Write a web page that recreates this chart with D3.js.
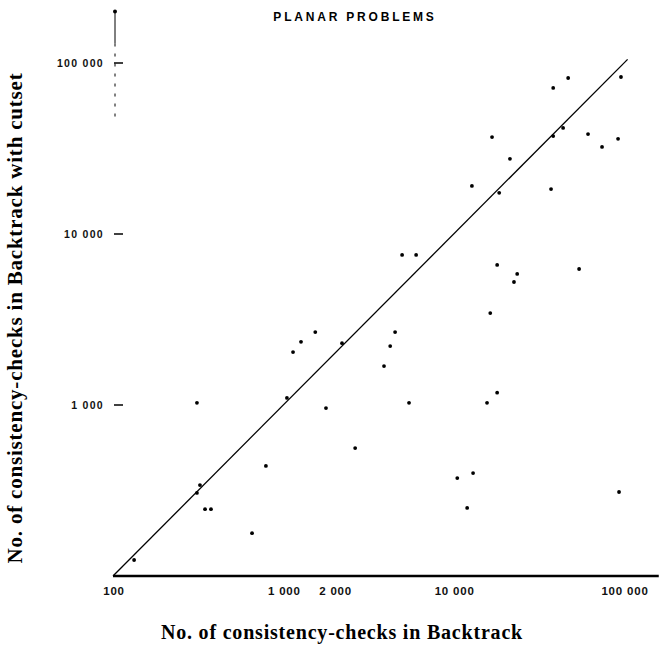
<!DOCTYPE html>
<html>
<head>
<meta charset="utf-8">
<script src="https://cdn.jsdelivr.net/npm/d3@7"></script>
<style>
  body { margin: 0; background: #fff; }
</style>
</head>
<body>
<div id="chart"></div>
<script>
// consistency-checks, plain backtrack (x) vs backtrack with cutset (y)
const backtrack = [
  38400, 47000, 96000, 38400, 43900, 16800, 61500, 74300, 92300, 21400,
  12800, 18500, 37300, 4980, 6020, 18000, 23600, 54500, 22600, 16400,
  4530, 4240, 3900, 5470, 15700, 18000, 311, 1140, 1270, 1540,
  2210, 1050, 1780, 2640, 790, 324, 311, 347, 376, 655,
  133, 10500, 13000, 12000, 93500
];
const cutset = [
  71500, 81700, 82800, 37400, 41700, 36900, 38400, 32300, 36000, 27500,
  19100, 17400, 18300, 7540, 7540, 6590, 5840, 6240, 5240, 3450,
  2670, 2210, 1690, 1030, 1030, 1180, 1030, 2040, 2340, 2670,
  2300, 1100, 960, 560, 440, 340, 306, 246, 246, 178,
  124, 374, 400, 250, 310
];
const xTicks = [100, 1000, 2000, 10000, 100000];
const xTickLabels = ['100', '1 000', '2 000', '10 000', '100 000'];
const yTicks = [1000, 10000, 100000];
const yTickLabels = ['1 000', '10 000', '100 000'];

const width = 661,
  height = 645;

const svg = d3
  .select('#chart')
  .append('svg')
  .attr('width', width)
  .attr('height', height);

// Creating Scales
const xScale = d3.scaleLog().domain([100, 100000]).range([113, 624]);
const yScale = d3.scaleLog().domain([100, 100000]).range([576, 63]);

// Title
svg
  .append('text')
  .attr('x', 355)
  .attr('y', 21)
  .attr('text-anchor', 'middle')
  .style('font-family', 'Liberation Sans, Arial, sans-serif')
  .style('font-weight', 'bold')
  .style('font-size', '12px')
  .style('letter-spacing', '2.8px')
  .text('PLANAR PROBLEMS');

// Creating Axis
svg
  .append('line')
  .attr('x1', xScale(100))
  .attr('x2', xScale(160000))
  .attr('y1', yScale(100))
  .attr('y2', yScale(100))
  .attr('stroke', '#000')
  .attr('stroke-width', 2.4);

const xAxisGroup = svg
  .append('g')
  .attr('transform', `translate(0, ${yScale(100) + 19})`);
xAxisGroup
  .selectAll('text')
  .data(xTicks)
  .enter()
  .append('text')
  .attr('x', d => xScale(d) + 1)
  .attr('text-anchor', 'middle')
  .style('font-family', 'Liberation Sans, Arial, sans-serif')
  .style('font-weight', 'bold')
  .style('font-size', '11.5px')
  .style('letter-spacing', '0.8px')
  .attr('fill', '#111')
  .text((d, i) => xTickLabels[i]);

// y axis is only faintly visible at the top
const yTop = 200000;
svg
  .append('circle')
  .attr('cx', 115)
  .attr('cy', yScale(yTop))
  .attr('r', 2)
  .attr('fill', '#000');
svg
  .append('line')
  .attr('x1', 115)
  .attr('x2', 115)
  .attr('y1', yScale(yTop))
  .attr('y2', yScale(130000))
  .attr('stroke', '#000')
  .attr('stroke-width', 1);
svg
  .append('line')
  .attr('x1', 115)
  .attr('x2', 115)
  .attr('y1', yScale(130000))
  .attr('y2', yScale(48000))
  .attr('stroke', '#000')
  .attr('stroke-width', 1)
  .attr('stroke-dasharray', '3,7');

const yAxisGroup = svg.append('g');
yAxisGroup
  .selectAll('line')
  .data(yTicks)
  .enter()
  .append('line')
  .attr('x1', 114)
  .attr('x2', 123)
  .attr('y1', d => yScale(d))
  .attr('y2', d => yScale(d))
  .attr('stroke', '#000')
  .attr('stroke-width', 1.5);
yAxisGroup
  .selectAll('text')
  .data(yTicks)
  .enter()
  .append('text')
  .attr('x', 104)
  .attr('y', d => yScale(d) + 4)
  .attr('text-anchor', 'end')
  .style('font-family', 'Liberation Sans, Arial, sans-serif')
  .style('font-weight', 'bold')
  .style('font-size', '10.5px')
  .style('letter-spacing', '1.3px')
  .attr('fill', '#111')
  .text((d, i) => yTickLabels[i]);

// Creating Labels
svg
  .append('text')
  .attr('x', 342)
  .attr('y', 639)
  .attr('text-anchor', 'middle')
  .style('font-family', 'Liberation Serif, Times New Roman, serif')
  .style('font-weight', 'bold')
  .style('font-size', '20px')
  .style('letter-spacing', '0.8px')
  .text('No. of consistency-checks in Backtrack');
svg
  .append('text')
  .attr('x', -318)
  .attr('y', 22)
  .attr('text-anchor', 'middle')
  .attr('transform', 'rotate(-90)')
  .style('font-family', 'Liberation Serif, Times New Roman, serif')
  .style('font-weight', 'bold')
  .style('font-size', '21px')
  .style('letter-spacing', '0.8px')
  .text('No. of consistency-checks in Backtrack with cutset');

// Diagonal y = x
svg
  .append('line')
  .attr('x1', xScale(100))
  .attr('y1', yScale(100))
  .attr('x2', xScale(105000))
  .attr('y2', yScale(105000))
  .attr('stroke', '#000')
  .attr('stroke-width', 1.3);

// Creating Points
svg
  .append('g')
  .selectAll('circle')
  .data(backtrack)
  .enter()
  .append('circle')
  .attr('cx', d => xScale(d))
  .attr('cy', (d, i) => yScale(cutset[i]))
  .attr('r', 1.9)
  .attr('fill', '#000');
</script>
</body>
</html>
